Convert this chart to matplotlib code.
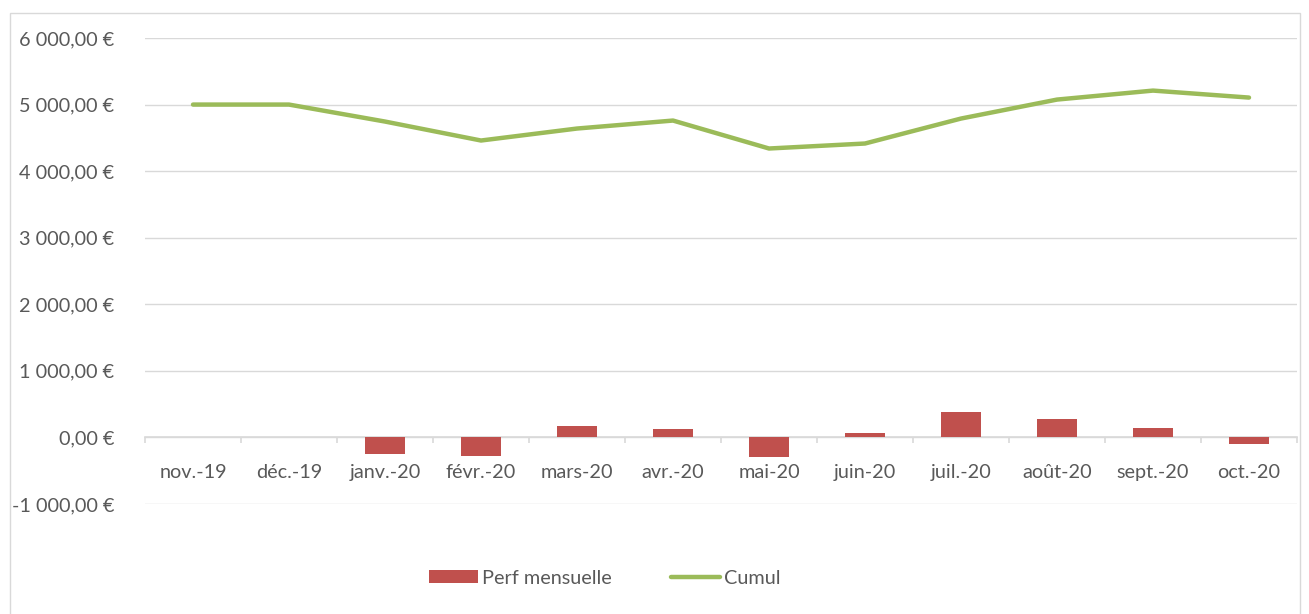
import matplotlib.pyplot as plt
from matplotlib.patches import Rectangle
from matplotlib.ticker import FuncFormatter, FixedLocator
import numpy as np

# data
mois = ['nov.-19', 'déc.-19', 'janv.-20', 'févr.-20', 'mars-20', 'avr.-20',
        'mai-20', 'juin-20', 'juil.-20', 'août-20', 'sept.-20', 'oct.-20']
perf = [0, 0, -255, -275, 170, 125, -290, 65, 375, 280, 140, -100]
cumul = [5000, 5000, 4745, 4460, 4640, 4760, 4340, 4415, 4790, 5075, 5210, 5105]

plt.rcParams['font.family'] = ['Lato', 'DejaVu Sans']
txt = '#595959'
grid = '#d9d9d9'
fs = 14.3

fig = plt.figure(figsize=(13.09, 6.14), dpi=100)
ax = fig.add_axes([145 / 1309, 1 - 504 / 614, 1152 / 1309, 466 / 614])

x = np.arange(len(mois))
barres = ax.bar(x, perf, width=0.41, color='#C0504D', label='Perf mensuelle', zorder=3)
ligne, = ax.plot(x, cumul, color='#9BBB59', lw=3.2, solid_capstyle='round', label='Cumul', zorder=4)

ax.set_xlim(-0.5, len(mois) - 0.5)
ax.set_ylim(-1000, 6000)
ax.set_yticks(range(-1000, 6001, 1000))

def euro(v, pos):
    s = f"{v:,.2f}".replace(',', ' ').replace('.', ',')
    return s + ' €'

ax.yaxis.set_major_formatter(FuncFormatter(euro))
ax.tick_params(axis='y', length=0, pad=22, labelsize=fs, labelcolor=txt)
ax.yaxis.grid(True, color=grid, lw=1, zorder=0)

# category axis on the zero line
for s in ['top', 'right', 'left']:
    ax.spines[s].set_visible(False)
ax.spines['bottom'].set_position(('data', 0))
ax.spines['bottom'].set_color(grid)
ax.spines['bottom'].set_linewidth(1.2)
ax.xaxis.set_major_locator(FixedLocator(np.arange(-0.5, len(mois), 1.0)))
ax.xaxis.set_major_formatter(FuncFormatter(lambda v, p: ''))
ax.xaxis.set_minor_locator(FixedLocator(x))
ax.set_xticklabels(mois, minor=True)
ax.tick_params(axis='x', which='major', length=4, width=1.2, color=grid, direction='out')
ax.tick_params(axis='x', which='minor', length=0, pad=19, labelsize=fs, labelcolor=txt)

leg = fig.legend([barres, ligne], ['Perf mensuelle', 'Cumul'], loc='center',
                 bbox_to_anchor=(605 / 1309, 1 - 578 / 614), ncol=2,
                 frameon=False, fontsize=fs, handlelength=2.45, handleheight=0.6,
                 columnspacing=3.0, handletextpad=0.2)
for t in leg.get_texts():
    t.set_color(txt)

fig.patches.append(Rectangle((10 / 1309, -0.01), 1290 / 1309, 1 - 13 / 614 + 0.01,
                             transform=fig.transFigure, fill=False,
                             edgecolor=grid, lw=1))

fig.savefig('out.png', dpi=100)
